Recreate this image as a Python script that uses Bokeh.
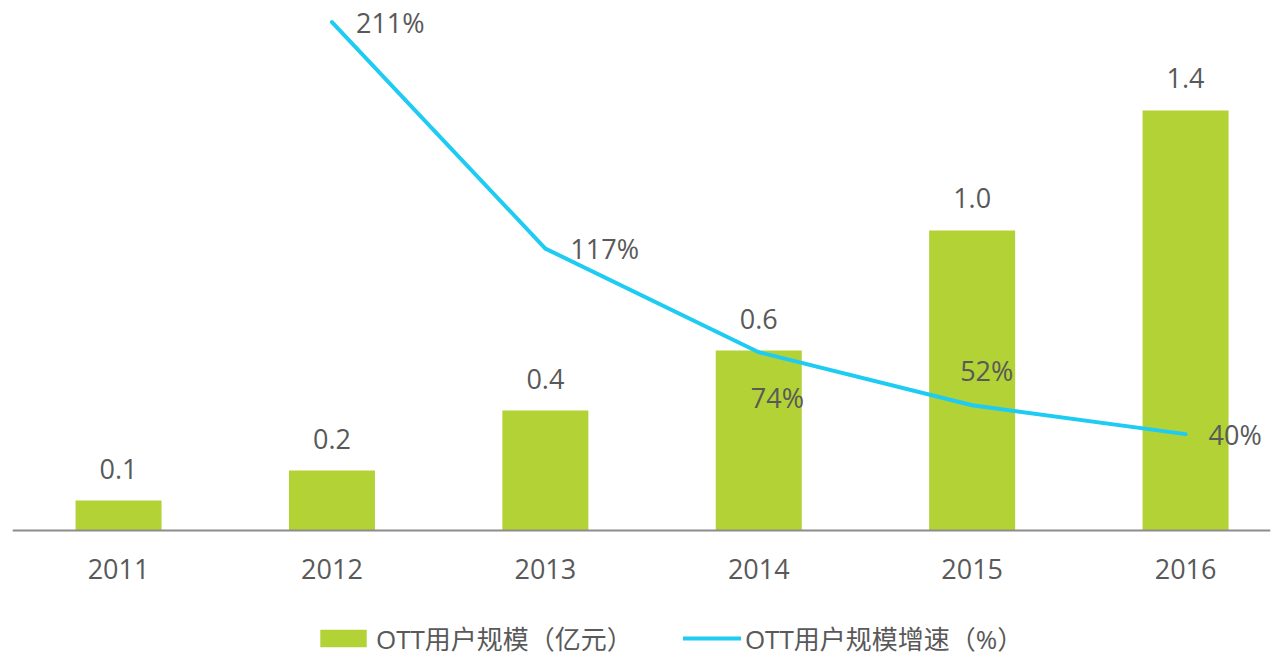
from bokeh.plotting import figure
from bokeh.models import (ColumnDataSource, Range1d, Span, Legend, LegendItem)
from bokeh.core.properties import value
from bokeh.embed import file_html
from bokeh.resources import INLINE

# ---- data ----
years = ["2011", "2012", "2013", "2014", "2015", "2016"]
scale = [0.1, 0.2, 0.4, 0.6, 1.0, 1.4]          # OTT用户规模（亿元）
growth_years = ["2012", "2013", "2014", "2015", "2016"]
growth = [211, 117, 74, 52, 40]                  # OTT用户规模增速（%）

# ---- styles ----
BAR_COLOR = "#b2d235"
LINE_COLOR = "#1ecbf2"
TEXT_COLOR = "#595959"
AXIS_COLOR = "#8c8c8c"
FONT = "Open Sans, Noto Sans CJK SC"
FS = "27px"
# label offsets (px) for growth labels
g_dx = [24, 25, -8, -12, 23]
g_dy = [0, 0, 45, -35, 0]

xi = list(range(len(years)))
gx = [years.index(y) for y in growth_years]

bar_src = ColumnDataSource(dict(x=xi, top=scale,
                                label=[f"{v:.1f}" for v in scale]))
line_src = ColumnDataSource(dict(x=gx, y=growth,
                                 label=[f"{v}%" for v in growth],
                                 dx=g_dx, dy=g_dy))
year_src = ColumnDataSource(dict(x=xi, y=[0] * len(xi), label=years))

p = figure(width=1278, height=657, output_backend="svg",
           toolbar_location=None,
           x_range=Range1d(-0.497, 5.398), y_range=Range1d(-0.4233, 1.7333),
           min_border_left=12, min_border_right=8, min_border_top=10,
           min_border_bottom=0, x_axis_location=None, y_axis_location=None)
p.outline_line_color = None
p.grid.visible = False
p.extra_y_ranges = {"g": Range1d(-52.7, 215.8)}

bars = p.vbar(x="x", top="top", width=0.403, source=bar_src,
              color=BAR_COLOR, line_color=None)
p.text(x="x", y="top", text="label", source=bar_src, text_align="center",
       text_baseline="middle", y_offset=-32, text_color=TEXT_COLOR,
       text_font=value(FONT), text_font_size=FS)

# category axis (baseline + year labels)
p.add_layout(Span(location=0, dimension="width", line_color=AXIS_COLOR,
                  line_width=2))
p.text(x="x", y="y", text="label", source=year_src, text_align="center",
       text_baseline="middle", y_offset=38, text_color=TEXT_COLOR,
       text_font=value(FONT), text_font_size=FS)

ln = p.line(x="x", y="y", source=line_src, y_range_name="g",
            line_color=LINE_COLOR, line_width=4, line_cap="round",
            line_join="round")
p.text(x="x", y="y", text="label", source=line_src, y_range_name="g",
       x_offset="dx", y_offset="dy", text_align="left",
       text_baseline="middle", text_color=TEXT_COLOR,
       text_font=value(FONT), text_font_size=FS)

legend = Legend(items=[LegendItem(label="OTT用户规模（亿元）", renderers=[bars]),
                       LegendItem(label="OTT用户规模增速（%）", renderers=[ln])],
                orientation="horizontal", location=(302, 0))
legend.label_text_font = FONT
legend.label_text_font_size = "26px"
legend.label_text_color = TEXT_COLOR
legend.glyph_width = 58
legend.glyph_height = 22
legend.label_standoff = 4
legend.spacing = 50
legend.border_line_color = None
legend.background_fill_alpha = 0
legend.padding = 0
legend.margin = 0
p.add_layout(legend, "center")

open("out.html", "w").write(file_html(p, INLINE))
